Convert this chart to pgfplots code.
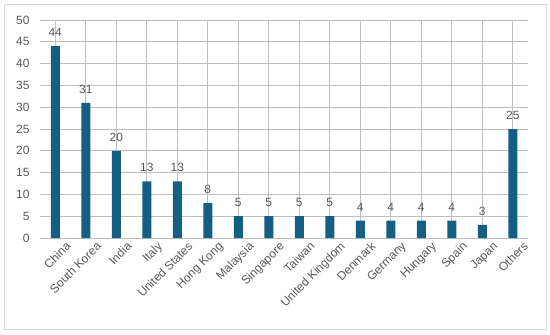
\documentclass[border=0pt]{standalone}
\usepackage{pgfplots}
\pgfplotsset{compat=1.18}
\usepackage{fontspec}
\setmainfont{Liberation Sans}
\definecolor{bar}{HTML}{156082}
\definecolor{txt}{HTML}{595959}
\definecolor{grid}{HTML}{D9D9D9}
\begin{document}
\begin{tikzpicture}[x=1bp,y=1bp]
\path[use as bounding box] (0,0) rectangle (550,334);
\draw[grid,line width=0.8bp] (4,5) rectangle (546,330);
\begin{axis}[
  at={(40bp,96bp)}, anchor=south west,
  scale only axis, width=488bp, height=218bp,
  xmin=-0.5, xmax=15.5, ymin=0, ymax=50,
  ytick={0,5,...,50},
  xtick=data,
  xticklabels={China,South Korea,India,Italy,United States,Hong Kong,Malaysia,Singapore,Taiwan,United Kingdom,Denmark,Germany,Hungary,Spain,Japan,Others},
  axis line style={draw=none},
  major tick length=0pt,
  ymajorgrids, grid style={grid,line width=0.8bp},
  tick label style={font=\fontsize{12}{14}\selectfont, text=txt},
  yticklabel style={xshift=-7bp},
  xticklabel style={rotate=45, anchor=north east, inner sep=1pt, xshift=6bp, yshift=-8bp},
  /pgf/number format/assume math mode=true,
  nodes near coords,
  every node near coord/.append style={font=\fontsize{12}{14}\selectfont, text=txt, yshift=6bp},
]
\addplot[ybar, bar width=9bp, fill=bar, draw=none] coordinates {
(0,44) (1,31) (2,20) (3,13) (4,13) (5,8) (6,5) (7,5) (8,5) (9,5) (10,4) (11,4) (12,4) (13,4) (14,3) (15,25)};
\end{axis}
\end{tikzpicture}
\end{document}
